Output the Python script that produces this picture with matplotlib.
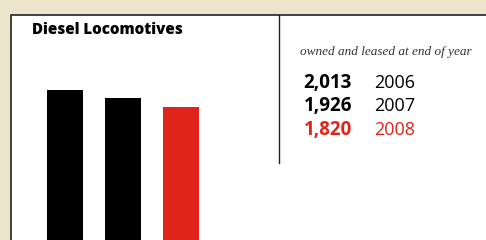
import matplotlib
matplotlib.use('Agg')
import matplotlib.pyplot as plt
from matplotlib.patches import Rectangle

years = ['2006', '2007', '2008']
locomotives = [2013, 1926, 1820]
bar_colors = ['#000000', '#000000', '#E0241B']

W, H = 486, 240
fig = plt.figure(figsize=(W / 100, H / 100), dpi=100)
fig.patch.set_facecolor('#EDE5CB')

# white panel with dark border (left/top), runs off the right and bottom edges
panel = Rectangle((11 / W, -0.1), 1.2, 1.1 - 15 / H, transform=fig.transFigure,
                  facecolor='white', edgecolor='#222222', linewidth=1.2, zorder=-5)
fig.patches.append(panel)

# bar axes: baseline sits below the figure edge so bars look cut off
base_px = 271
top_px = 15
ax = fig.add_axes([11 / W, 1 - base_px / H, (279 - 11) / W, (base_px - top_px) / H])
ax.set_facecolor('none')
ax.bar([0, 1, 2], locomotives, width=0.62, color=bar_colors)
ax.set_xlim(-0.93, 3.7)
ax.set_ylim(0, (base_px - top_px) / 0.09)
ax.axis('off')

# divider line
fig.add_artist(plt.Line2D([279 / W, 279 / W], [1 - 15 / H, 1 - 163 / H],
                          transform=fig.transFigure, color='#222222', linewidth=1))

fig.text(32 / W, 1 - 30 / H, 'Diesel Locomotives', fontsize=10.9, fontweight=800,
         family='Open Sans', va='center', ha='left')

fig.text(300 / W, 1 - 52 / H, 'owned and leased at end of year', fontsize=9.5,
         style='italic', family='Liberation Serif', color='#333333', va='center', ha='left')

row_y = [83, 106, 130]
for val, yr, c, y in zip(locomotives, years, bar_colors, row_y):
    fig.text(352 / W, 1 - y / H, f'{val:,}', fontsize=13.5, fontweight='bold',
             family='Open Sans', color=c, va='center', ha='right')
    fig.text(374 / W, 1 - y / H, yr, fontsize=13, family='Open Sans',
             color=c, va='center', ha='left')

plt.savefig('out.png', dpi=100, facecolor=fig.get_facecolor())
